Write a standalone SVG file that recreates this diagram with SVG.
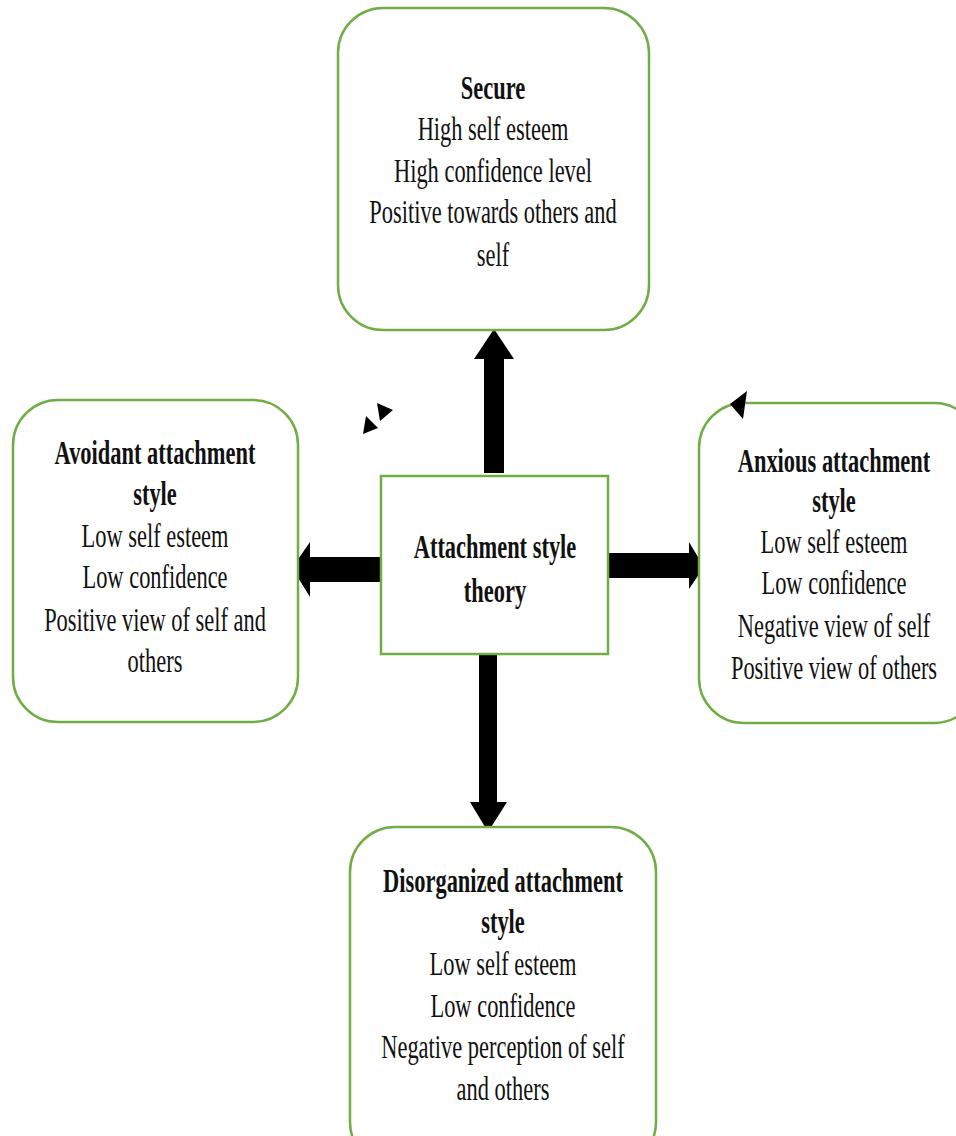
<svg xmlns="http://www.w3.org/2000/svg" width="956" height="1136" viewBox="0 0 956 1136">
<style>
.box{fill:#fff;stroke:#70AD47;stroke-width:2.5}
.t{font-family:"Liberation Serif","Times New Roman",serif;font-size:33px;fill:#111;text-anchor:middle}
.b{font-weight:bold}
.arr{fill:#000}
</style>
<rect width="956" height="1136" fill="#fff"/>
<g id="connectors">
<polygon class="arr" points="484,473 484,359 474,359 494,329 514,359 504,359 504,473"/>
<polygon class="arr" points="383,557 310,557 310,542 292,568 310,597 310,582 383,582"/>
<polygon class="arr" points="607,553 689,553 689,542 704,567 689,589 689,578 607,578"/>
<polygon class="arr" points="479,654 479,802 470,802 488,832 507,802 497,802 497,654"/>
<polygon class="arr" points="377,403 393,410 380,421"/>
<polygon class="arr" points="366,416 378,428 363,434"/>
</g>
<g id="secure">
<rect class="box" x="338" y="8" width="311" height="322" rx="45"/>
<text class="t" transform="translate(493 0) scale(0.68 1)"><tspan class="b" x="0" y="99">Secure</tspan><tspan x="0" y="140">High self esteem</tspan><tspan x="0" y="182">High confidence level</tspan><tspan x="0" y="223">Positive towards others and</tspan><tspan x="0" y="266">self</tspan></text>
</g>
<g id="center">
<rect class="box" x="381" y="476" width="227" height="178"/>
<text class="t b" transform="translate(495 0) scale(0.68 1)"><tspan x="0" y="558">Attachment style</tspan><tspan x="0" y="602">theory</tspan></text>
</g>
<g id="avoidant">
<rect class="box" x="13" y="400" width="285" height="322" rx="45"/>
<text class="t" transform="translate(155 0) scale(0.68 1)"><tspan class="b" x="0" y="464">Avoidant attachment</tspan><tspan class="b" x="0" y="505">style</tspan><tspan x="0" y="547">Low self esteem</tspan><tspan x="0" y="588">Low confidence</tspan><tspan x="0" y="631">Positive view of self and</tspan><tspan x="0" y="672">others</tspan></text>
</g>
<g id="anxious">
<rect class="box" x="699" y="403" width="280" height="320" rx="45"/>
<polygon class="arr" points="747,391 730,404 743,419"/>
<text class="t" transform="translate(834 0) scale(0.68 1)"><tspan class="b" x="0" y="472">Anxious attachment</tspan><tspan class="b" x="0" y="512">style</tspan><tspan x="0" y="553">Low self esteem</tspan><tspan x="0" y="594">Low confidence</tspan><tspan x="0" y="637">Negative view of self</tspan><tspan x="0" y="679">Positive view of others</tspan></text>
</g>
<g id="disorganized">
<rect class="box" x="350" y="827" width="306" height="340" rx="45"/>
<text class="t" transform="translate(503 0) scale(0.68 1)"><tspan class="b" x="0" y="892">Disorganized attachment</tspan><tspan class="b" x="0" y="933">style</tspan><tspan x="0" y="975">Low self esteem</tspan><tspan x="0" y="1017">Low confidence</tspan><tspan x="0" y="1058">Negative perception of self</tspan><tspan x="0" y="1100">and others</tspan></text>
</g>
</svg>
